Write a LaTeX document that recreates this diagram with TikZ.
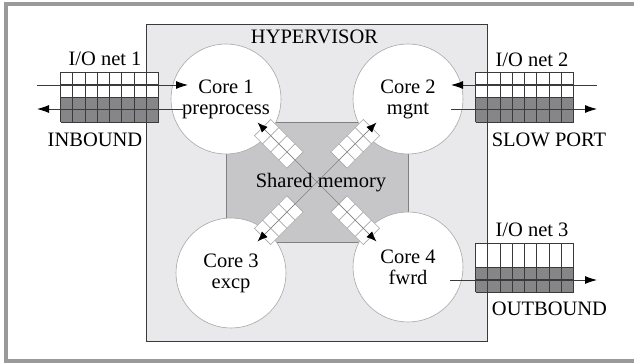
\documentclass[tikz,border=0pt]{standalone}
\usepackage{fontspec}
\setmainfont{Liberation Serif}
\usetikzlibrary{arrows.meta,calc}
\definecolor{framegray}{HTML}{9A9A9A}
\definecolor{hvfill}{HTML}{E9E9EB}
\definecolor{smfill}{HTML}{C6C6C8}
\definecolor{cellgray}{HTML}{868688}
\definecolor{linedark}{HTML}{3A3A3A}
\definecolor{qgray}{HTML}{A8A8A8}
\begin{document}
\begin{tikzpicture}[x=1pt,y=-1pt,
  font=\fontsize{20.5}{21}\selectfont,
  core/.style={circle, fill=white, draw=qgray, line width=0.6pt,
    minimum size=110pt, inner sep=0pt, align=center},
  boxnode/.style={draw=linedark, line width=1.1pt, inner sep=0pt, anchor=north west},
  lbl/.style={anchor=base, inner sep=0pt},
  gl/.style={draw=linedark, line width=0.8pt},
  ioarrow/.style={draw=linedark, line width=0.9pt, -{Latex[length=12pt,width=8pt,color=black]}},
  diag/.style={draw=gray, line width=0.6pt, -{Latex[length=10pt,width=8pt,color=black]}},
  qcell/.style={draw=qgray, line width=0.6pt, fill=white},
  qline/.style={draw=qgray, line width=0.6pt}]
\useasboundingbox (0,0) rectangle (634,363);
% outer frame (open on the right)
\draw[framegray, line width=4pt] (634,4.5) -- (6,4.5) -- (6,361) -- (634,361);
% hypervisor
\node[boxnode, fill=hvfill, minimum width=341pt, minimum height=317pt] (hv) at (146,24) {};
\node[lbl] (hvlabel) at (314.5,44) {HYPERVISOR};
% shared memory box
\node[boxnode, fill=smfill, draw=gray, line width=0.9pt, minimum width=182pt, minimum height=120pt] (sm) at (226,122) {};
% cores
\node[core] (c1) at (226,99) {Core 1\\preprocess};
\node[core] (c2) at (408,99) {Core 2\\mgnt};
\node[core] (c3) at (231,273) {Core 3\\excp};
\node[core] (c4) at (408,267) {Core 4\\fwrd};
% diagonal queues
\coordinate (x) at (317,182);
\foreach \ang/\nm in {135/t1,45/t2,225/t3,315/t4}{
  \begin{scope}[shift={(x)}, rotate=\ang]
    \draw[qcell] (31,-11.5) rectangle (77,11.5);
    \draw[qline] (31,0) -- (77,0);
    \foreach \a in {42.5,54,65.5} \draw[qline] (\a,-11.5) -- (\a,11.5);
  \end{scope}
  \coordinate (\nm) at ($(x)+(\ang:84pt)$);
  \draw[diag] (x) -- (\nm);
}
\node[lbl] (smlabel) at (321,188) {Shared memory};
% I/O net 1
\fill[white] (60.5,72) rectangle (158.5,97);
\fill[cellgray] (60.5,97) rectangle (158.5,122);
\foreach \i in {0,...,8} \draw[gl] ({60.5+12.25*\i},72) -- ({60.5+12.25*\i},122);
\foreach \j in {0,...,4} \draw[gl] (60.5,{72+12.5*\j}) -- (158.5,{72+12.5*\j});
% I/O net 2
\fill[white] (475.5,72) rectangle (573.5,97);
\fill[cellgray] (475.5,97) rectangle (573.5,122);
\foreach \i in {0,...,8} \draw[gl] ({475.5+12.25*\i},72) -- ({475.5+12.25*\i},122);
\foreach \j in {0,...,4} \draw[gl] (475.5,{72+12.5*\j}) -- (573.5,{72+12.5*\j});
% I/O net 3
\fill[white] (475.5,243) rectangle (573.5,267);
\fill[cellgray] (475.5,267) rectangle (573.5,292);
\foreach \i in {0,...,8} \draw[gl] ({475.5+12.25*\i},243) -- ({475.5+12.25*\i},292);
\foreach \y in {243,267,279.5,292} \draw[gl] (475.5,\y) -- (573.5,\y);
% I/O arrows
\coordinate (n1a) at (37,85);   \coordinate (n1b) at (188,85);
\coordinate (n1c) at (183,109); \coordinate (n1d) at (37,109);
\coordinate (n2a) at (597,85);  \coordinate (n2b) at (451,85);
\coordinate (n2c) at (451,109); \coordinate (n2d) at (597,109);
\coordinate (n3a) at (450,280); \coordinate (n3b) at (597,280);
\draw[ioarrow] (n1a) -- (n1b);
\draw[ioarrow] (n1c) -- (n1d);
\draw[ioarrow] (n2a) -- (n2b);
\draw[ioarrow] (n2c) -- (n2d);
\draw[ioarrow] (n3a) -- (n3b);
% labels
\node[lbl] (l1) at (105,66) {I/O net 1};
\node[lbl] (l1b) at (95,146.5) {INBOUND};
\node[lbl] (l2) at (532,66.5) {I/O net 2};
\node[lbl] (l2b) at (549,146.5) {SLOW PORT};
\node[lbl] (l3) at (532,237) {I/O net 3};
\node[lbl] (l3b) at (549.5,315) {OUTBOUND};
\end{tikzpicture}
\end{document}
